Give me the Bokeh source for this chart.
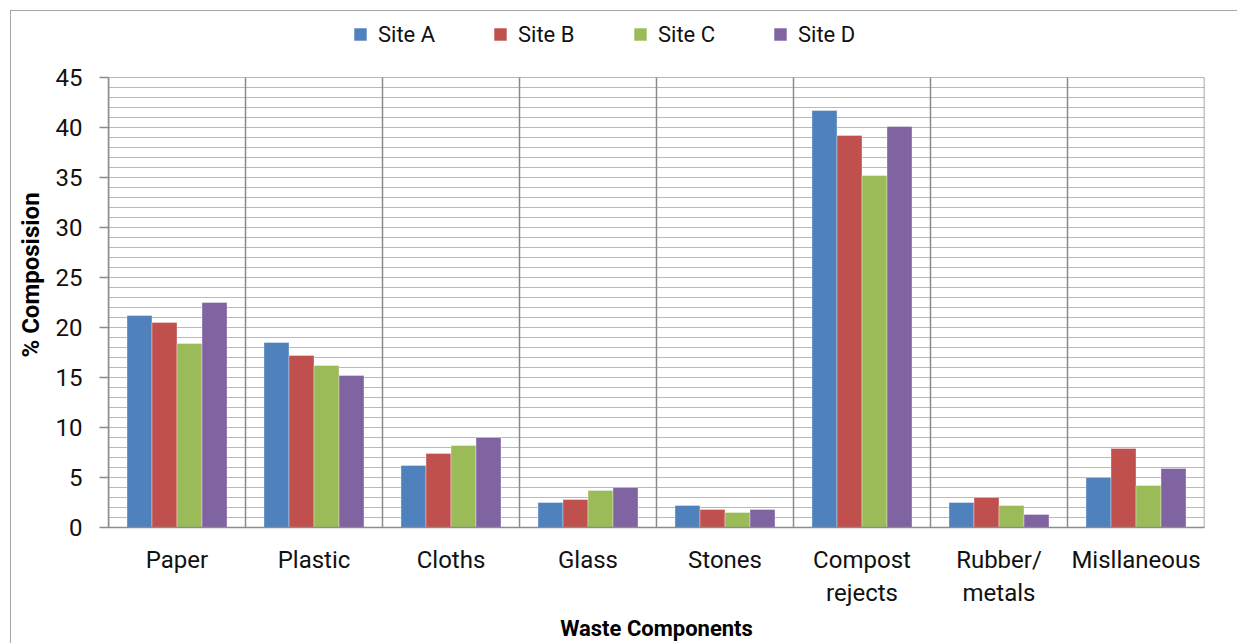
from bokeh.plotting import figure
from bokeh.models import (FactorRange, Range1d, SingleIntervalTicker, Legend, LegendItem,
                          ColumnDataSource, Whisker)
from bokeh.transform import dodge
from bokeh.embed import file_html
from bokeh.resources import INLINE

categories = ["Paper", "Plastic", "Cloths", "Glass", "Stones", "Compost\nrejects",
              "Rubber/\nmetals", "Misllaneous"]
sites = ["Site A", "Site B", "Site C", "Site D"]
site_a = [21.2, 18.5, 6.2, 2.5, 2.2, 41.7, 2.5, 5.0]
site_b = [20.5, 17.2, 7.4, 2.8, 1.8, 39.2, 3.0, 7.9]
site_c = [18.4, 16.2, 8.2, 3.7, 1.5, 35.2, 2.2, 4.2]
site_d = [22.5, 15.2, 9.0, 4.0, 1.8, 40.1, 1.3, 5.9]
colors = ["#4F81BD", "#C0504D", "#9BBB59", "#8064A2"]
y_max = 45
y_step = 5

FONT = "Roboto"
GRID = "#b9b9b9"
DARK = "#8c8c8c"

src = ColumnDataSource(dict(cat=categories, a=site_a, b=site_b, c=site_c, d=site_d))

# the frame extends above the value axis to hold the legend (legend area = 5.5 units)
p = figure(x_range=FactorRange(factors=categories, range_padding=0),
           y_range=Range1d(0, y_max + 5.5),
           width=1227, height=633, output_backend="svg", toolbar_location=None,
           min_border_left=97, min_border_right=34,
           min_border_top=11, min_border_bottom=117, outline_line_color=None,
           styles={"border-top": "1px solid #a6a6a6", "border-left": "1px solid #a6a6a6",
                   "margin-left": "10px", "margin-top": "10px"})

bw = 0.1825
renderers = []
for i, (col, name) in enumerate(zip(["a", "b", "c", "d"], sites)):
    r = p.vbar(x=dodge("cat", (i - 1.5) * bw, range=p.x_range), top=col, width=bw,
               bottom=0, source=src, fill_color=colors[i], line_color="white",
               line_alpha=0.35, line_width=1)
    renderers.append((name, r))

# y axis & grid
yt = SingleIntervalTicker(interval=y_step, num_minor_ticks=5)
p.yaxis.ticker = yt
p.yaxis.bounds = (0, y_max)
p.yaxis.axis_line_color = DARK
p.yaxis.axis_line_width = 1.5
p.yaxis.major_tick_line_color = DARK
p.yaxis.major_tick_line_width = 1.5
p.yaxis.major_tick_out = 9
p.yaxis.major_tick_in = 0
p.yaxis.minor_tick_line_color = None
p.yaxis.major_label_text_font = FONT
p.yaxis.major_label_text_font_size = "24px"
p.yaxis.major_label_text_color = "#111111"
p.yaxis.major_label_standoff = 17
p.yaxis.axis_label = "% Composision"
p.yaxis.axis_label_text_font = FONT
p.yaxis.axis_label_text_font_style = "bold"
p.yaxis.axis_label_text_font_size = "24px"
p.yaxis.axis_label_text_color = "#000000"
p.yaxis.axis_label_standoff = 8

p.ygrid.bounds = (0, y_max)
p.ygrid.grid_line_color = GRID
p.ygrid.grid_line_width = 1.2
p.ygrid.minor_grid_line_color = GRID
p.ygrid.minor_grid_line_width = 1.2
p.xgrid.visible = False

# x axis
xa = p.xaxis[0]
xa.axis_line_color = DARK
xa.axis_line_width = 1.5
xa.major_tick_line_color = None
xa.major_tick_out = 0
xa.major_tick_in = 0
xa.minor_tick_line_color = None
xa.major_label_text_font = FONT
xa.major_label_text_font_size = "24px"
xa.major_label_text_color = "#111111"
xa.major_label_standoff = 18
xa.axis_label = "Waste Components"
xa.axis_label_text_font = FONT
xa.axis_label_text_font_style = "bold"
xa.axis_label_text_font_size = "22px"
xa.axis_label_text_color = "#000000"
xa.axis_label_standoff = 6

# category boundary lines (synthetic coordinates of the factor range), with the
# short tick marks hanging below the axis
bounds = list(range(0, len(categories) + 1))
sep_src = ColumnDataSource(dict(x=bounds, lo=[-0.9] * len(bounds), hi=[y_max] * len(bounds)))
p.add_layout(Whisker(source=sep_src, base="x", lower="lo", upper="hi", dimension="height",
                     line_color=DARK, line_width=1.5, lower_head=None, upper_head=None))

legend = Legend(items=[LegendItem(label=n, renderers=[r]) for n, r in renderers],
                orientation="horizontal", location=(244, 480),
                glyph_width=16, glyph_height=16, label_standoff=10, label_width=102,
                label_height=26, spacing=12, padding=0, margin=0,
                border_line_color=None, background_fill_alpha=0,
                label_text_font=FONT, label_text_font_size="22px",
                label_text_color="#111111")
p.add_layout(legend, "center")

open("out.html", "w").write(file_html(p, INLINE))
